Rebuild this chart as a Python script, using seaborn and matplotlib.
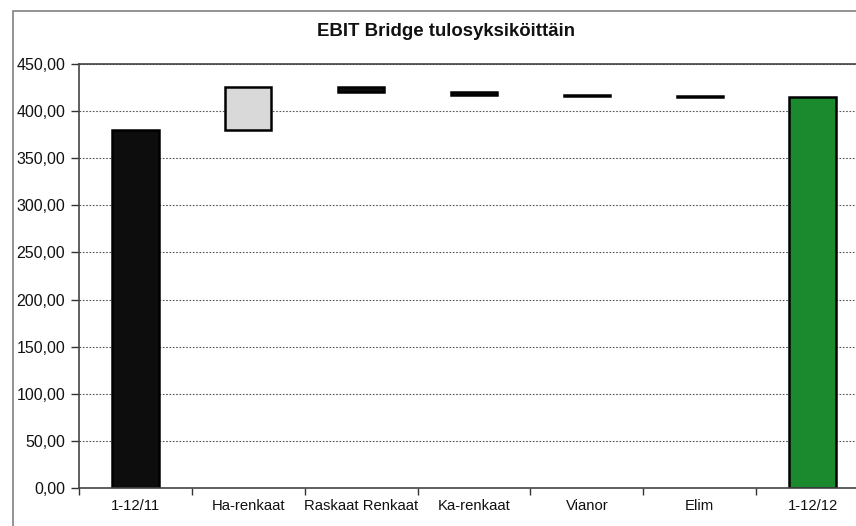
import numpy as np
import pandas as pd
import matplotlib
matplotlib.use('Agg')
import matplotlib.pyplot as plt
from matplotlib.patches import Rectangle
from matplotlib.ticker import FuncFormatter
import seaborn as sns

# EBIT bridge values (MEUR)
categories = ['1-12/11', 'Ha-renkaat', 'Raskaat Renkaat', 'Ka-renkaat', 'Vianor', 'Elim', '1-12/12']
start_value = 380.0
changes = [45.5, -5.5, -2.5, -1.0, -1.0]
end_value = 415.5
y_ticks = [0, 50, 100, 150, 200, 250, 300, 350, 400, 450]

# waterfall: bottoms and heights
levels = np.concatenate([[start_value], start_value + np.cumsum(changes)])
bottoms = [0.0] + [min(levels[i], levels[i + 1]) for i in range(len(changes))] + [0.0]
heights = [start_value] + [abs(c) for c in changes] + [end_value]
colors = ['#0d0d0d'] + ['#d9d9d9' if c > 0 else '#0d0d0d' for c in changes] + ['#1b8a2f']

df = pd.DataFrame({'category': categories, 'bottom': bottoms, 'height': heights})

sns.set_style('white')
plt.rcParams['font.family'] = ['Liberation Sans', 'DejaVu Sans']

fig = plt.figure(figsize=(8.56, 5.26), dpi=100)
ax = fig.add_axes([79 / 856, 1 - 488 / 526, 790 / 856, 424 / 526])

sns.barplot(data=df, x='category', y='height', bottom=np.array(bottoms), ax=ax, color='black',
            width=0.41, edgecolor='black', linewidth=1.8, saturation=1, errorbar=None)
for patch, c in zip(ax.patches, colors):
    patch.set_facecolor(c)

ax.set_ylim(0, 450)
ax.set_xlim(-0.5, len(categories) - 0.5)
ax.set_yticks(y_ticks)
ax.yaxis.set_major_formatter(FuncFormatter(lambda v, p: f'{v:.2f}'.replace('.', ',')))
ax.yaxis.grid(True, linestyle=(0, (1.5, 1.5)), color='#555555', linewidth=0.8)
ax.set_axisbelow(True)

# ticks between categories on x
ax.set_xticks(np.arange(len(categories)))
ax.set_xticklabels(categories)
ax.set_xticks(np.arange(len(categories) + 1) - 0.5, minor=True)
ax.tick_params(axis='x', which='major', length=0, labelsize=10.7, pad=8, colors='#111111')
ax.tick_params(axis='x', which='minor', length=5, width=1, color='#333333', direction='out', bottom=True)
ax.tick_params(axis='y', length=6, width=1, color='#333333', direction='out', left=True,
               labelsize=11.5, pad=4, labelcolor='#111111')

ax.set_xlabel('')
ax.set_ylabel('')
for side in ['left', 'bottom', 'top']:
    ax.spines[side].set_color('#444444')
    ax.spines[side].set_linewidth(1.2)
ax.spines['right'].set_visible(False)

# outer chart frame
fig.patches.append(Rectangle((13 / 856, -0.05), 1.0, 1 - 11 / 526 + 0.05, transform=fig.transFigure,
                             fill=False, edgecolor='#808080', linewidth=1.2))

fig.text(446 / 856, 1 - 32 / 526, 'EBIT Bridge tulosyksiköittäin', ha='center', va='center',
         fontsize=13.4, fontweight='bold', color='#111111')

fig.savefig('out.png', dpi=100)
